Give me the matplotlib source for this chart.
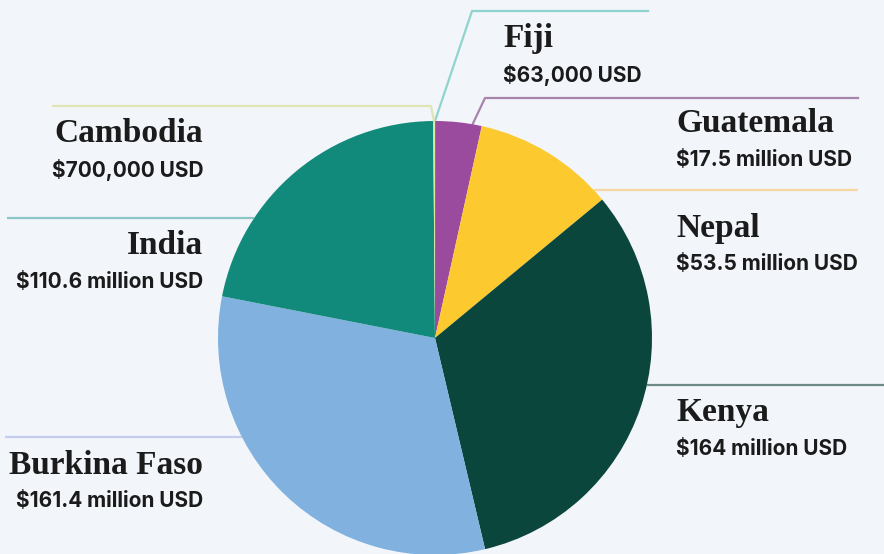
import numpy as np
import matplotlib
matplotlib.use("Agg")
from matplotlib import pyplot as plt

W, H = 884, 554
BG = "#f2f5fa"

# order: clockwise from the top of the pie
countries = ["Fiji", "Guatemala", "Nepal", "Kenya", "Burkina Faso", "India", "Cambodia"]
funding = [0.063, 17.5, 53.5, 164.0, 161.4, 110.6, 0.7]  # million USD
value_labels = ["$63,000 USD", "$17.5 million USD", "$53.5 million USD", "$164 million USD",
                "$161.4 million USD", "$110.6 million USD", "$700,000 USD"]
slice_colors = ["#7fd0cb", "#9a4b9d", "#fcc92f", "#0b463c", "#80b1df", "#128a7b", "#dbe7a2"]
line_colors = ["#8fd4cf", "#a784ab", "#f6d9a2", "#6f8a85", "#c5cdef", "#8cc5c6", "#dfe6b4"]

CX, CY, R = 435, 338, 217

# label layout in pixel space: text x, name y, alignment, leader y, leader outer x, elbow x
layout = {
    "Fiji":         (503, 39, "left", 11, 648, 472),
    "Guatemala":    (676, 124, "left", 98, 858, 485),
    "Nepal":        (676, 228, "left", 190, 858, None),
    "Kenya":        (676, 413, "left", 385, 884, None),
    "Burkina Faso": (203, 465, "right", 437, 5, None),
    "India":        (203, 246, "right", 218, 7, None),
    "Cambodia":     (203, 134, "right", 106, 53, 431),
}
attach_frac = {"Fiji": 0.0, "Guatemala": 0.8, "Cambodia": 0.5}

fig = plt.figure(figsize=(W / 100, H / 100), dpi=100, facecolor=BG)
ax = fig.add_axes([0, 0, 1, 1])
ax.set_facecolor(BG)

# y axis is inverted, so counterclock=True runs clockwise on screen
wedges, _ = ax.pie(funding, colors=slice_colors, center=(CX, CY), radius=R,
                   startangle=-90, counterclock=True, wedgeprops=dict(linewidth=0))
ax.set_xlim(0, W)
ax.set_ylim(H, 0)
ax.set_aspect("equal")
ax.axis("off")

for name, val, wedge, lc in zip(countries, value_labels, wedges, line_colors):
    tx, ty, ha, ly, lx, ex = layout[name]
    if ex is None:
        dx = np.sqrt(R ** 2 - (ly - CY) ** 2)
        px = CX + dx if lx > CX else CX - dx
        ax.plot([lx, px], [ly, ly], color=lc, lw=1.6, solid_capstyle="butt", zorder=0)
    else:
        f = attach_frac[name]
        ang = np.radians(wedge.theta1 + f * (wedge.theta2 - wedge.theta1))
        px = CX + R * np.cos(ang)
        py = CY + R * np.sin(ang)
        ax.plot([lx, ex, px], [ly, ly, py], color=lc, lw=1.6, zorder=0)

    ax.text(tx, ty, name, ha=ha, va="center", fontsize=24, fontweight="bold",
            family="Liberation Serif", color="#1b1b1b")
    ax.text(tx, ty + 36, val, ha=ha, va="center", fontsize=15, fontweight="bold",
            family="Inter", color="#1b1b1b")

fig.savefig("out.png", dpi=100, facecolor=BG)
